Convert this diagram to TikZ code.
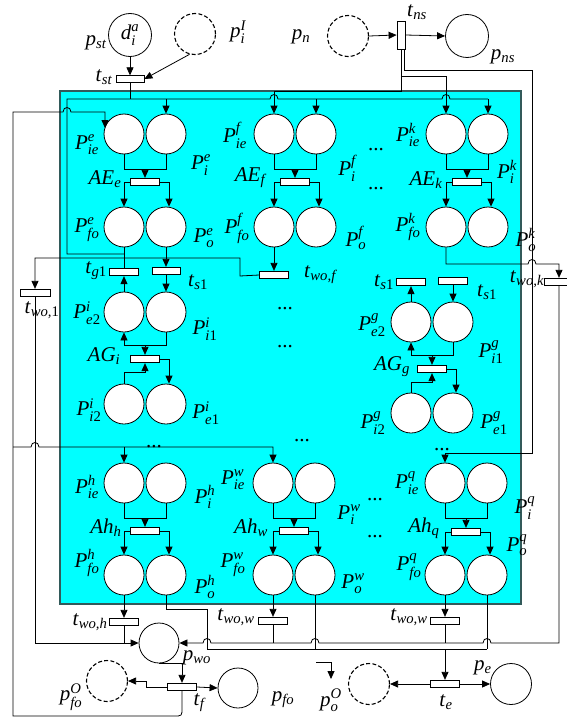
\documentclass[tikz,border=0pt]{standalone}
\usepackage{fontspec}
\usepackage{amsmath}
\setmainfont{Liberation Serif}
\usetikzlibrary{arrows.meta}
\definecolor{bord}{RGB}{50,90,90}
\definecolor{cy}{RGB}{0,255,255}
\newcommand\plab[3]{\textit{#1}$^{\text{\itshape #2}}_{\text{\itshape #3}}$}
\newcommand\slab[2]{\textit{#1}$_{\text{\itshape #2}}$}
\tikzset{
 place/.style={circle,draw,fill=white,minimum size=40pt,inner sep=0pt},
 bplace/.style={place,minimum size=43pt},
 dplace/.style={circle,draw,minimum size=41pt,inner sep=0pt,line width=1.1pt,dash pattern=on 4pt off 2.2pt},
 tr/.style={rectangle,draw,fill=white,minimum width=29pt,minimum height=7.5pt,inner sep=0pt},
 vtr/.style={rectangle,draw,fill=white,minimum width=8pt,minimum height=28pt,inner sep=0pt},
 arr/.style={-{Triangle[length=8pt,width=7pt]}},
 lbl/.style={inner sep=0pt},
}
\begin{document}
\begin{tikzpicture}[x=1pt,y=-1pt,line width=0.8pt,font=\fontsize{21}{24}\selectfont]
\fill[white] (0,0) rectangle (566,717);
\path[use as bounding box] (0,0) rectangle (566,717);
\filldraw[draw=bord,fill=cy,line width=1.5pt] (60,91) rectangle (521,604);

% top nodes
\node[bplace] (pst) at (130,35) {\plab{d}{a}{i}};
\node[dplace] (piI) at (195,34) {};
\node[tr,minimum width=28pt,minimum height=6.5pt] (tst) at (130,79) {};
\node[dplace] (pn) at (348,36) {};
\node[vtr] (tns) at (401,35) {};
\node[bplace] (pns) at (467,36) {};

% groups of four places
\foreach \n/\xl/\xt/\ya/\yt/\yb in {e/124/145/134/182/227, f/274/295/134/182/227, k/446/467/134/182/227, h/124/145/483/531/575, w/273/294/483/531/575, q/445/466/483/532/575}{
  \node[place] (\n L1) at (\xl,\ya) {};
  \node[place] (\n R1) at (\xl+42,\ya) {};
  \node[tr] (\n T) at (\xt,\yt) {};
  \node[place] (\n L2) at (\xl,\yb) {};
  \node[place] (\n R2) at (\xl+42,\yb) {};
  \draw (\n L1.south) -- ++(0,15) -| (\n R1.south);
  \draw[arr] (\xt,\ya+35) -- (\n T.north);
  \draw[arr] (\n T.west) -| (\n L2.north);
  \draw[arr] (\n T.east) -| ([xshift=3pt]\n R2.north);
}
% middle groups
\foreach \n/\xl/\xt/\ya/\yt/\yb in {i/124/145/312/359/404, g/411/432/322/369/413}{
  \node[place] (\n L1) at (\xl,\ya) {};
  \node[place] (\n R1) at (\xl+42,\ya) {};
  \node[tr] (\n T) at (\xt,\yt) {};
  \node[place] (\n L2) at (\xl,\yb) {};
  \node[place] (\n R2) at (\xl+42,\yb) {};
  \draw[arr] (\n R1.south) |- ([yshift=9pt]\n T.north) -- (\n T.north);
  \draw[arr] ([yshift=9pt]\n T.north) -| (\n L1.south);
  \draw[arr] (\n L2.north) |- ([yshift=-9pt]\n T.south) -- (\n T.south);
  \draw[arr] (\n T.east) -| ([xshift=3pt]\n R2.north);
}

% transitions
\node[tr] (tg1) at (124,272) {};
\node[tr,minimum width=28pt] (ts1) at (166,271) {};
\node[tr] (twof) at (274,275) {};
\node[tr,minimum width=30pt] (tw1) at (35,293) {};
\node[tr] (twok) at (559,282) {};
\node[tr] (tsa) at (411,282) {};
\node[tr] (tsb) at (453,281) {};
\node[tr] (twoh) at (124,622) {};
\node[tr] (tww1) at (273,621) {};
\node[tr] (tww2) at (445,621) {};

% bottom nodes
\node[place] (pwo) at (159,643) {};
\node[tr] (tf) at (182,687) {};
\node[dplace] (pfoO) at (107,681) {};
\node[place] (pfo) at (238,688) {};
\node[dplace] (poO) at (369,684) {};
\node[tr] (te) at (445,684) {};
\node[place,minimum size=41pt] (pe) at (511,684) {};

% top connections
\draw[arr] (pst.south) -- (tst.north);
\draw[arr] (piI.255) -- (tst.east);
\draw (tst.south) -- (130,99);
\draw (124,254) -- (67,254) -- (67,99) -- (270,99) .. controls (270,93) and (278,93) .. (278,99) -- (442,99) .. controls (442,93) and (450,93) .. (450,99) -- (488,99);
\draw[arr] (166,99) -- (eR1.north);
\draw[arr] (316,99) -- (fR1.north);
\draw[arr] (488,99) -- (kR1.north);
\draw[arr] (pn.east) -- (tns.west);
\draw[arr] (tns.east) -- (pns.west);
\draw[arr] (tns.south) -- (401,91) -- (274,91) -- (fL1.north);
\draw[arr] (401,76) -- (446,76) -- (kL1.north);
\draw[arr] (404,49) -- (404,70) -- (532,70) -- (532,453) -- (445,453) -- (qL1.north);

% left feedback
\draw[arr] (tf.south) -- (182,708) .. controls (182,716) .. (174,716) -- (13,716) -- (13,112) -- (63,112) .. controls (63,106) and (71,106) .. (71,112) -- (105,112) -- (105,128);
\draw[arr] (13,447) -- (31,447) .. controls (31,441) and (39,441) .. (39,447) -- (273,447) -- (wL1.north);
\draw[arr] (124,447) -- (hL1.north);

% e / i / f / k transitions
\draw (eL2.south) -- (tg1.north);
\draw[arr] (eR2.south) -- (ts1.north);
\draw[arr] (ts1.south) -- (iR1.north);
\draw[arr] (iL1.north) -- (tg1.south);
\draw[arr] (gL1.north) -- (tsa.south);
\draw[arr] (tsb.south) -- (gR1.north);
\draw[arr] (fL2.south) -- (twof.north);
\draw[arr] (twof.west) -- (240,276) -- (240,258) -- (35,258) -- (tw1.north);
\draw[arr] (tw1.south) -- (35,643) -- (pwo.west);
\draw[arr] (kL2.south) -- (446,264) -- (528,264) .. controls (528,258) and (536,258) .. (536,264) -- (559,264) -- (twok.north);

% bottom collection
\draw[arr] (hL2.south) -- (twoh.north);
\draw[arr] (wL2.south) -- (tww1.north);
\draw[arr] (qL2.south) -- (tww2.north);
\draw (twoh.south) -- (124,643);
\draw (tww1.south) -- (273,643);
\draw (tww2.south) -- (445,643);
\draw[arr] (twok.south) -- (559,643) -- (491,643) .. controls (491,637) and (483,637) .. (483,643) -- (319,643) .. controls (319,637) and (311,637) .. (311,643) -- (211,643) .. controls (211,637) and (203,637) .. (203,643) -- (pwo.east);
\draw (hR2.south) -- (166,609) -- (207,609) -- (207,649) -- (487,649);
\draw (wR2.south) -- (315,649);
\draw (qR2.south) -- (487,649);
\draw[arr] (445,649) -- (te.north);
\draw[arr] (pwo.south) -| (tf.north);
\draw[arr] (tf.west) -- (146,687) -- (146,681) -- (pfoO.east);
\draw[arr] (tf.east) -- (pfo.west);
\draw[arr] (te.west) -- (poO.east);
\draw[arr] (te.east) -- (pe.west);
\coordinate (s1) at (316,662);
\coordinate (s2) at (331,679);
\draw[arr] (s1) -| (s2);

% labels
\begin{scope}[every node/.style={lbl}]
\node (l1) at (96,43) {\slab{p}{st}};
\node (l2) at (238,32) {\plab{p}{I}{i}};
\node (l3) at (104,77) {\slab{t}{st}};
\node (l4) at (301,37) {\slab{p}{n}};
\node (l5) at (417,12) {\slab{t}{ns}};
\node (l6) at (503,57) {\slab{p}{ns}};
\node (le1) at (87,145) {\plab{P}{e}{ie}};
\node (le2) at (201,165) {\plab{P}{e}{i}};
\node (le3) at (105,179) {\slab{AE}{e}};
\node (le4) at (87,230) {\plab{P}{e}{fo}};
\node (le5) at (204,238) {\plab{P}{e}{o}};
\node (lf1) at (235,135) {\plab{P}{f}{ie}};
\node (lf2) at (347,168) {\plab{P}{f}{i}};
\node (lf3) at (250,178) {\slab{AE}{f}};
\node (lf4) at (237,228) {\plab{P}{f}{fo}};
\node (lf5) at (356,238) {\plab{P}{f}{o}};
\node (lk1) at (408,135) {\plab{P}{k}{ie}};
\node (lk2) at (507,172) {\plab{P}{k}{i}};
\node (lk3) at (426,180) {\slab{AE}{k}};
\node (lk4) at (408,227) {\plab{P}{k}{fo}};
\node (lk5) at (526,240) {\plab{P}{k}{o}};
\node (d1) at (376,150) {...};
\node (d2) at (376,189) {...};
\node (lt1) at (96,271) {\slab{t}{g\upshape 1}};
\node (lt2) at (198,282) {\slab{t}{s\upshape 1}};
\node (lt3) at (320,275) {\slab{t}{wo,f}};
\node (lt4) at (42,310) {\slab{t}{wo,\upshape 1}};
\node (lt5) at (527,279) {\slab{t}{wo,k}};
\node (lt6) at (384,282) {\slab{t}{s\upshape 1}};
\node (lt7) at (487,292) {\slab{t}{s\upshape 1}};
\node (li1) at (87,313) {\plab{P}{i}{e\upshape 2}};
\node (li2) at (205,329) {\plab{P}{i}{i\upshape 1}};
\node (li3) at (104,356) {\slab{AG}{i}};
\node (li4) at (89,410) {\plab{P}{i}{i\upshape 2}};
\node (li5) at (206,413) {\plab{P}{i}{e\upshape 1}};
\node (lg1) at (372,325) {\plab{P}{g}{e\upshape 2}};
\node (lg2) at (491,352) {\plab{P}{g}{i\upshape 1}};
\node (lg3) at (392,367) {\slab{AG}{g}};
\node (lg4) at (373,423) {\plab{P}{g}{i\upshape 2}};
\node (lg5) at (494,423) {\plab{P}{g}{e\upshape 1}};
\node (d3) at (285,309) {...};
\node (d4) at (285,347) {...};
\node (d5) at (154,447) {...};
\node (d6) at (302,441) {...};
\node (d7) at (442,450) {...};
\node (lh1) at (87,487) {\plab{P}{h}{ie}};
\node (lh2) at (205,497) {\plab{P}{h}{i}};
\node (lh3) at (106,528) {\slab{Ah}{h}};
\node (lh4) at (87,563) {\plab{P}{h}{fo}};
\node (lh5) at (205,587) {\plab{P}{h}{o}};
\node (lw1) at (233,480) {\plab{P}{w}{ie}};
\node (lw2) at (349,515) {\plab{P}{w}{i}};
\node (lw3) at (251,528) {\slab{Ah}{w}};
\node (lw4) at (233,565) {\plab{P}{w}{fo}};
\node (lw5) at (353,584) {\plab{P}{w}{o}};
\node (lq1) at (407,483) {\plab{P}{q}{ie}};
\node (lq2) at (525,508) {\plab{P}{q}{i}};
\node (lq3) at (424,528) {\slab{Ah}{q}};
\node (lq4) at (409,567) {\plab{P}{q}{fo}};
\node (lq5) at (517,545) {\plab{P}{q}{o}};
\node (d8) at (375,500) {...};
\node (d9) at (375,537) {...};
\node (lb1) at (90,622) {\slab{t}{wo,h}};
\node (lb2) at (236,617) {\slab{t}{wo,w}};
\node (lb3) at (409,617) {\slab{t}{wo,w}};
\node (lb4) at (197,658) {\slab{p}{wo}};
\node (lb5) at (199,703) {\slab{t}{f}};
\node (lb6) at (283,700) {\slab{p}{fo}};
\node (lb7) at (71,697) {\plab{p}{O}{fo}};
\node (lb8) at (331,700) {\plab{p}{O}{o}};
\node (lb9) at (446,702) {\slab{t}{e}};
\node (lb10) at (483,668) {\slab{p}{e}};
\end{scope}
\end{tikzpicture}
\end{document}
